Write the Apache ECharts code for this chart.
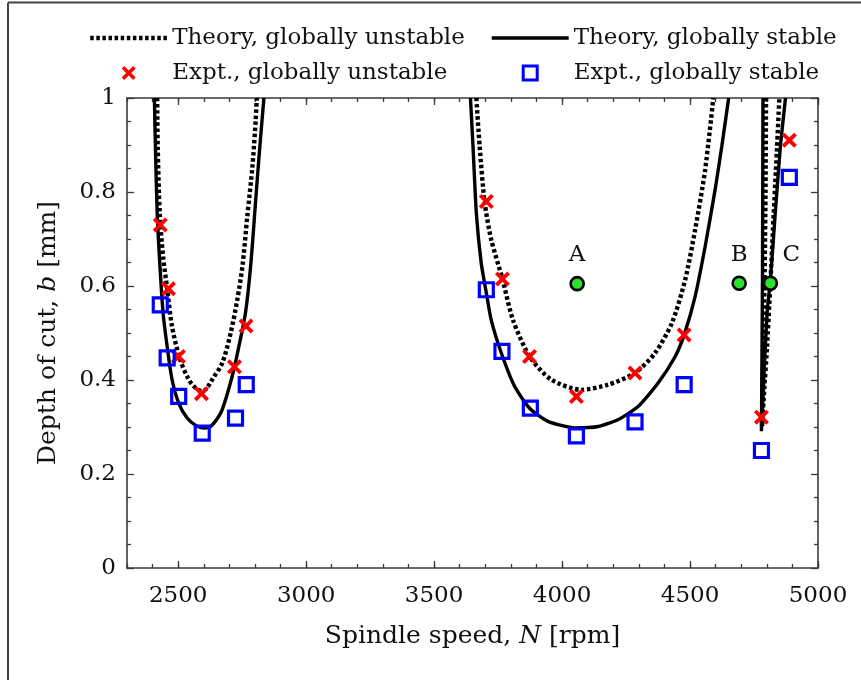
<!DOCTYPE html>
<html>
<head>
<meta charset="utf-8">
<script src="https://cdn.jsdelivr.net/npm/echarts@6/dist/echarts.min.js"></script>
<style>
  html, body { margin: 0; padding: 0; background: #fff; }
  #chart { width: 861px; height: 680px; }
</style>
</head>
<body>
<div id="chart"></div>
<script>
// Stability lobes: spindle speed N [rpm] vs. limiting depth of cut b [mm]
const unstableLobe1N = [2418, 2420, 2428, 2441, 2457, 2476, 2505, 2541, 2570, 2596, 2615, 2633, 2672, 2705, 2731, 2751, 2770, 2790, 2803, 2807];
const unstableLobe1B = [1.0, 0.897, 0.755, 0.663, 0.594, 0.514, 0.448, 0.401, 0.382, 0.376, 0.385, 0.401, 0.436, 0.500, 0.571, 0.642, 0.748, 0.854, 0.954, 1.0];
const stableLobe1N = [2407, 2411, 2418, 2428, 2441, 2457, 2476, 2502, 2535, 2570, 2600, 2620, 2645, 2672, 2711, 2737, 2763, 2783, 2803, 2818, 2835];
const stableLobe1B = [1.0, 0.897, 0.755, 0.649, 0.543, 0.471, 0.401, 0.351, 0.319, 0.303, 0.298, 0.299, 0.312, 0.337, 0.408, 0.471, 0.543, 0.642, 0.784, 0.890, 1.0];

const unstableLobe2N = [3665, 3678, 3697, 3723, 3767, 3808, 3873, 3957, 4075, 4179, 4285, 4363, 4429, 4481, 4520, 4559, 4591];
const unstableLobe2B = [1.0, 0.897, 0.780, 0.699, 0.615, 0.528, 0.450, 0.401, 0.379, 0.390, 0.415, 0.457, 0.521, 0.613, 0.720, 0.847, 1.0];
const stableLobe2N = [3642, 3652, 3665, 3684, 3704, 3723, 3763, 3815, 3873, 3945, 4050, 4141, 4220, 4298, 4376, 4442, 4477, 4520, 4559, 4598, 4624, 4651];
const stableLobe2B = [1.0, 0.897, 0.755, 0.649, 0.585, 0.528, 0.457, 0.386, 0.340, 0.312, 0.298, 0.301, 0.316, 0.344, 0.394, 0.450, 0.496, 0.578, 0.684, 0.805, 0.897, 1.0];

const unstableLobe3N = [4797, 4795, 4791, 4786, 4781, 4790, 4801, 4814, 4827, 4840, 4849];
const unstableLobe3B = [1.0, 0.8, 0.6, 0.45, 0.301, 0.38, 0.471, 0.606, 0.755, 0.897, 1.0];
const stableLobe3N = [4785, 4784, 4783, 4781, 4779, 4783, 4788, 4801, 4814, 4833, 4853, 4873];
const stableLobe3B = [1.0, 0.8, 0.613, 0.45, 0.291, 0.34, 0.401, 0.543, 0.613, 0.755, 0.897, 1.0];

// Cutting tests
const exptUnstableN = [2430, 2462, 2501, 2591, 2720, 2765, 3704, 3767, 3873, 4056, 4285, 4477, 4779, 4888];
const exptUnstableB = [0.730, 0.594, 0.450, 0.371, 0.428, 0.515, 0.780, 0.615, 0.450, 0.365, 0.415, 0.496, 0.321, 0.910];
const exptStableN = [2430, 2457, 2502, 2594, 2724, 2766, 3704, 3765, 3876, 4056, 4285, 4477, 4779, 4888];
const exptStableB = [0.560, 0.447, 0.365, 0.287, 0.319, 0.390, 0.592, 0.461, 0.340, 0.281, 0.311, 0.390, 0.250, 0.831];

// Marked operating points
const pointNames = ['A', 'B', 'C'];
const pointN = [4059, 4692, 4814];
const pointB = [0.605, 0.606, 0.606];

// Axis ticks
const xMin = 2300, xMax = 5000;
const xMajorTicks = [2500, 3000, 3500, 4000, 4500, 5000];
const xMinorStep = 100;
const yMin = 0, yMax = 1, yStep = 0.2;

const NAME_UNSTABLE = 'Theory, globally unstable';
const NAME_STABLE = 'Theory, globally stable';
const NAME_X_UNSTABLE = 'Expt., globally unstable';
const NAME_X_STABLE = 'Expt., globally stable';

const FONT = 'DejaVu Serif';
const AXIS_COLOR = '#3a3a3a';
const TEXT_COLOR = '#111';
const RED = '#ff0000';
const BLUE = '#0000ff';
const CROSS_PATH = 'path://M1.8,0 L5,3.2 L8.2,0 L10,1.8 L6.8,5 L10,8.2 L8.2,10 L5,6.8 L1.8,10 L0,8.2 L3.2,5 L0,1.8 Z';
const SQUARE_PATH = 'path://M0,0 L10,0 L10,10 L0,10 Z';

const DOTTED = { color: '#000', width: 4.4, type: [3.5, 2.6], cap: 'butt' };
const SOLID = { color: '#000', width: 3.4 };

const zip = (xs, ys) => xs.map((x, i) => [x, ys[i]]);

function theoryLine(name, xs, ys, dotted, smooth) {
  return {
    type: 'line', name: name, data: zip(xs, ys),
    xAxisIndex: 0, yAxisIndex: 0,
    symbol: 'none', showSymbol: false, smooth: smooth, z: 2,
    itemStyle: { color: '#000' },
    lineStyle: dotted ? DOTTED : SOLID,
    emphasis: { disabled: true }
  };
}

const tickLineStyle = { color: AXIS_COLOR, width: 1.3 };
const axisLabelStyle = { fontFamily: FONT, fontSize: 23, color: TEXT_COLOR };
const plainNumber = v => String(v);

const grid = { left: 127, right: 43, top: 98, bottom: 112, containLabel: false };

function xAxisMajor(position, labels) {
  return {
    type: 'value', gridIndex: 0, position: position, min: xMin, max: xMax,
    axisLine: { show: true, onZero: false, lineStyle: { color: AXIS_COLOR, width: 1.6 } },
    axisTick: { show: true, inside: true, length: 7, customValues: xMajorTicks, lineStyle: tickLineStyle },
    axisLabel: Object.assign({ show: labels, margin: 17, customValues: xMajorTicks, formatter: plainNumber }, axisLabelStyle),
    splitLine: { show: false },
    name: labels ? 'Spindle speed, {i|N} [rpm]' : '',
    nameLocation: 'middle', nameGap: 56,
    nameTextStyle: {
      fontFamily: FONT, fontSize: 25, color: TEXT_COLOR,
      rich: { i: { fontFamily: FONT, fontSize: 25, fontStyle: 'italic', color: TEXT_COLOR } }
    }
  };
}
function xAxisMinor(position) {
  return {
    type: 'value', gridIndex: 1, position: position, min: xMin, max: xMax, interval: xMinorStep,
    axisLine: { show: false, onZero: false },
    axisTick: { show: true, inside: true, length: 4, lineStyle: tickLineStyle },
    axisLabel: { show: false }, splitLine: { show: false }
  };
}
function yAxisMain(position, labels) {
  return {
    type: 'value', gridIndex: 0, position: position, min: yMin, max: yMax, interval: yStep,
    axisLine: { show: true, onZero: false, lineStyle: { color: AXIS_COLOR, width: 1.6 } },
    axisTick: { show: true, inside: true, length: 7, lineStyle: tickLineStyle },
    minorTick: { show: true, splitNumber: 4, length: 4, lineStyle: tickLineStyle },
    axisLabel: Object.assign({ show: labels, margin: 11 }, axisLabelStyle),
    splitLine: { show: false }, minorSplitLine: { show: false },
    name: labels ? 'Depth of cut, {i|b} [mm]' : '',
    nameLocation: 'middle', nameGap: 66,
    nameTextStyle: {
      fontFamily: FONT, fontSize: 25, color: TEXT_COLOR,
      rich: { i: { fontFamily: FONT, fontSize: 25, fontStyle: 'italic', color: TEXT_COLOR } }
    }
  };
}

// legend entries: plain line samples for theory, single symbols for experiments
function legendItem(name) {
  if (name === NAME_UNSTABLE || name === NAME_STABLE) {
    return {
      name: name,
      itemStyle: { color: 'rgba(0,0,0,0)', borderWidth: 0, opacity: 0 },
      lineStyle: name === NAME_UNSTABLE ? DOTTED : SOLID
    };
  }
  if (name === NAME_X_STABLE) {
    return {
      name: name, icon: SQUARE_PATH, symbolKeepAspect: true,
      itemStyle: { color: 'rgba(0,0,0,0)', borderColor: BLUE, borderWidth: 3 }
    };
  }
  return { name: name, icon: CROSS_PATH, symbolKeepAspect: true, itemStyle: { color: RED } };
}

const legendText = { fontFamily: FONT, fontSize: 23, color: TEXT_COLOR, lineHeight: 26 };
function legendBlock(left, names) {
  return {
    orient: 'vertical', left: left, top: 25, padding: 0,
    itemWidth: 77, itemHeight: 14, itemGap: 9,
    selectedMode: false, textStyle: legendText,
    data: names.map(legendItem)
  };
}

const option = {
  animation: false,
  backgroundColor: '#fff',
  grid: [grid, Object.assign({}, grid)],
  legend: [
    legendBlock(88, [NAME_UNSTABLE, NAME_X_UNSTABLE]),
    legendBlock(490, [NAME_STABLE, NAME_X_STABLE])
  ],
  xAxis: [xAxisMajor('bottom', true), xAxisMajor('top', false), xAxisMinor('bottom'), xAxisMinor('top')],
  yAxis: [
    yAxisMain('left', true), yAxisMain('right', false),
    { type: 'value', gridIndex: 1, min: yMin, max: yMax, show: false }
  ],
  graphic: [
    { type: 'line', shape: { x1: 8, y1: 2.5, x2: 861, y2: 2.5 }, style: { stroke: '#444', lineWidth: 2 }, silent: true },
    { type: 'line', shape: { x1: 8, y1: 2.5, x2: 8, y2: 680 }, style: { stroke: '#444', lineWidth: 2 }, silent: true }
  ],
  series: [
    theoryLine(NAME_UNSTABLE, unstableLobe1N, unstableLobe1B, true, 0.3),
    theoryLine(NAME_UNSTABLE, unstableLobe2N, unstableLobe2B, true, 0.25),
    theoryLine(NAME_UNSTABLE, unstableLobe3N, unstableLobe3B, true, 0.15),
    theoryLine(NAME_STABLE, stableLobe1N, stableLobe1B, false, 0.3),
    theoryLine(NAME_STABLE, stableLobe2N, stableLobe2B, false, 0.2),
    theoryLine(NAME_STABLE, stableLobe3N, stableLobe3B, false, 0.15),
    {
      type: 'scatter', name: NAME_X_UNSTABLE, data: zip(exptUnstableN, exptUnstableB),
      xAxisIndex: 0, yAxisIndex: 0, z: 4,
      symbol: CROSS_PATH, symbolSize: 15,
      itemStyle: { color: RED, opacity: 1 }, emphasis: { disabled: true }
    },
    {
      type: 'scatter', name: NAME_X_STABLE, data: zip(exptStableN, exptStableB),
      xAxisIndex: 0, yAxisIndex: 0, z: 4,
      symbol: 'rect', symbolSize: 14,
      itemStyle: { color: 'rgba(0,0,0,0)', borderColor: BLUE, borderWidth: 3.2, opacity: 1 },
      emphasis: { disabled: true }
    },
    {
      type: 'scatter', name: 'points', xAxisIndex: 0, yAxisIndex: 0, z: 5,
      symbol: 'circle', symbolSize: 13,
      itemStyle: { color: '#2ee02e', borderColor: '#000', borderWidth: 2.6, opacity: 1 },
      emphasis: { disabled: true },
      label: {
        show: true, position: 'top', distance: 9, formatter: '{b}',
        fontFamily: FONT, fontSize: 23, color: TEXT_COLOR
      },
      data: pointNames.map((n, i) => ({
        name: n, value: [pointN[i], pointB[i]],
        label: n === 'C' ? { offset: [21, 0] } : undefined
      }))
    }
  ]
};

const chart = echarts.init(document.getElementById('chart'), null, { renderer: 'canvas' });
chart.setOption(option);
</script>
</body>
</html>
